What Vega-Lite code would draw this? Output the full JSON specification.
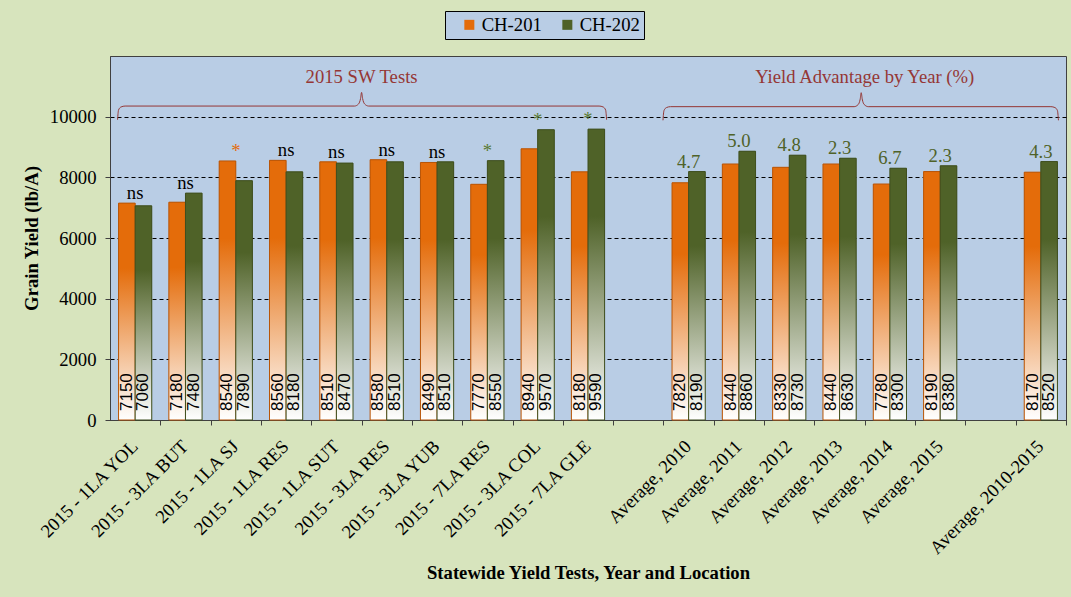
{
  "$schema": "https://vega.github.io/schema/vega-lite/v6.json",
  "width": 956,
  "height": 364,
  "autosize": "none",
  "padding": {"left": 110, "top": 56, "right": 5, "bottom": 177},
  "background": "#D7E4BD",
  "config": {
    "font": "Liberation Serif",
    "view": {"fill": "#B9CDE5", "stroke": "#404040", "strokeWidth": 1}
  },
  "datasets": {
    "yields": [
      {"cat": "2015 - 1LA YOL", "series": "CH-201", "value": 7150},
      {"cat": "2015 - 1LA YOL", "series": "CH-202", "value": 7060},
      {"cat": "2015 - 3LA BUT", "series": "CH-201", "value": 7180},
      {"cat": "2015 - 3LA BUT", "series": "CH-202", "value": 7480},
      {"cat": "2015 - 1LA SJ", "series": "CH-201", "value": 8540},
      {"cat": "2015 - 1LA SJ", "series": "CH-202", "value": 7890},
      {"cat": "2015 - 1LA RES", "series": "CH-201", "value": 8560},
      {"cat": "2015 - 1LA RES", "series": "CH-202", "value": 8180},
      {"cat": "2015 - 1LA SUT", "series": "CH-201", "value": 8510},
      {"cat": "2015 - 1LA SUT", "series": "CH-202", "value": 8470},
      {"cat": "2015 - 3LA RES", "series": "CH-201", "value": 8580},
      {"cat": "2015 - 3LA RES", "series": "CH-202", "value": 8510},
      {"cat": "2015 - 3LA YUB", "series": "CH-201", "value": 8490},
      {"cat": "2015 - 3LA YUB", "series": "CH-202", "value": 8510},
      {"cat": "2015 - 7LA RES", "series": "CH-201", "value": 7770},
      {"cat": "2015 - 7LA RES", "series": "CH-202", "value": 8550},
      {"cat": "2015 - 3LA COL", "series": "CH-201", "value": 8940},
      {"cat": "2015 - 3LA COL", "series": "CH-202", "value": 9570},
      {"cat": "2015 - 7LA GLE", "series": "CH-201", "value": 8180},
      {"cat": "2015 - 7LA GLE", "series": "CH-202", "value": 9590},
      {"cat": "Average, 2010", "series": "CH-201", "value": 7820},
      {"cat": "Average, 2010", "series": "CH-202", "value": 8190},
      {"cat": "Average, 2011", "series": "CH-201", "value": 8440},
      {"cat": "Average, 2011", "series": "CH-202", "value": 8860},
      {"cat": "Average, 2012", "series": "CH-201", "value": 8330},
      {"cat": "Average, 2012", "series": "CH-202", "value": 8730},
      {"cat": "Average, 2013", "series": "CH-201", "value": 8440},
      {"cat": "Average, 2013", "series": "CH-202", "value": 8630},
      {"cat": "Average, 2014", "series": "CH-201", "value": 7780},
      {"cat": "Average, 2014", "series": "CH-202", "value": 8300},
      {"cat": "Average, 2015", "series": "CH-201", "value": 8190},
      {"cat": "Average, 2015", "series": "CH-202", "value": 8380},
      {"cat": "Average, 2010-2015", "series": "CH-201", "value": 8170},
      {"cat": "Average, 2010-2015", "series": "CH-202", "value": 8520}
    ],
    "ann": [
      {"cat": "2015 - 1LA YOL", "label": "ns", "top": 7150, "ac": "#000000"},
      {"cat": "2015 - 3LA BUT", "label": "ns", "top": 7480, "ac": "#000000"},
      {"cat": "2015 - 1LA SJ", "label": "*", "top": 8540, "ac": "#E46C0A"},
      {"cat": "2015 - 1LA RES", "label": "ns", "top": 8560, "ac": "#000000"},
      {"cat": "2015 - 1LA SUT", "label": "ns", "top": 8510, "ac": "#000000"},
      {"cat": "2015 - 3LA RES", "label": "ns", "top": 8580, "ac": "#000000"},
      {"cat": "2015 - 3LA YUB", "label": "ns", "top": 8510, "ac": "#000000"},
      {"cat": "2015 - 7LA RES", "label": "*", "top": 8550, "ac": "#5A7A32"},
      {"cat": "2015 - 3LA COL", "label": "*", "top": 9570, "ac": "#5A7A32"},
      {"cat": "2015 - 7LA GLE", "label": "*", "top": 9590, "ac": "#5A7A32"},
      {"cat": "Average, 2010", "label": "4.7", "top": 8190, "ac": "#4F6228"},
      {"cat": "Average, 2011", "label": "5.0", "top": 8860, "ac": "#4F6228"},
      {"cat": "Average, 2012", "label": "4.8", "top": 8730, "ac": "#4F6228"},
      {"cat": "Average, 2013", "label": "2.3", "top": 8630, "ac": "#4F6228"},
      {"cat": "Average, 2014", "label": "6.7", "top": 8300, "ac": "#4F6228"},
      {"cat": "Average, 2015", "label": "2.3", "top": 8380, "ac": "#4F6228"},
      {"cat": "Average, 2010-2015", "label": "4.3", "top": 8520, "ac": "#4F6228"}
    ],
    "braces": [
      {"grp": "a", "pos": 0.15, "val": 9900},
      {"grp": "a", "pos": 0.17, "val": 10220},
      {"grp": "a", "pos": 0.22, "val": 10320},
      {"grp": "a", "pos": 0.30, "val": 10350},
      {"grp": "a", "pos": 4.86, "val": 10350},
      {"grp": "a", "pos": 4.94, "val": 10420},
      {"grp": "a", "pos": 4.98, "val": 10600},
      {"grp": "a", "pos": 5.00, "val": 10800},
      {"grp": "a", "pos": 5.02, "val": 10600},
      {"grp": "a", "pos": 5.06, "val": 10420},
      {"grp": "a", "pos": 5.14, "val": 10350},
      {"grp": "a", "pos": 9.72, "val": 10350},
      {"grp": "a", "pos": 9.80, "val": 10320},
      {"grp": "a", "pos": 9.85, "val": 10220},
      {"grp": "a", "pos": 9.87, "val": 9900},
      {"grp": "b", "pos": 10.99, "val": 9880},
      {"grp": "b", "pos": 11.01, "val": 10200},
      {"grp": "b", "pos": 11.06, "val": 10300},
      {"grp": "b", "pos": 11.14, "val": 10330},
      {"grp": "b", "pos": 14.79, "val": 10330},
      {"grp": "b", "pos": 14.87, "val": 10400},
      {"grp": "b", "pos": 14.91, "val": 10580},
      {"grp": "b", "pos": 14.93, "val": 10790},
      {"grp": "b", "pos": 14.95, "val": 10580},
      {"grp": "b", "pos": 14.99, "val": 10400},
      {"grp": "b", "pos": 15.07, "val": 10330},
      {"grp": "b", "pos": 18.70, "val": 10330},
      {"grp": "b", "pos": 18.78, "val": 10300},
      {"grp": "b", "pos": 18.83, "val": 10200},
      {"grp": "b", "pos": 18.85, "val": 9880}
    ],
    "groups": [
      {"pos": 5.0, "val": 11120, "label": "2015 SW Tests"},
      {"pos": 15.0, "val": 11120, "label": "Yield Advantage by Year (%)"}
    ]
  },
  "layer": [
    {
      "encoding": {
        "x": {
          "field": "cat", "type": "nominal",
          "scale": {
            "domain": ["2015 - 1LA YOL", "2015 - 3LA BUT", "2015 - 1LA SJ", "2015 - 1LA RES", "2015 - 1LA SUT", "2015 - 3LA RES", "2015 - 3LA YUB", "2015 - 7LA RES", "2015 - 3LA COL", "2015 - 7LA GLE", " ", "Average, 2010", "Average, 2011", "Average, 2012", "Average, 2013", "Average, 2014", "Average, 2015", "  ", "Average, 2010-2015"],
            "paddingInner": 0.34, "paddingOuter": 0.17
          },
          "axis": {
            "title": "Statewide Yield Tests, Year and Location",
            "titleFont": "Liberation Serif", "titleFontSize": 18.67, "titleFontWeight": "bold", "titleColor": "#000000", "titlePadding": 6,
            "labelAngle": -45, "labelAlign": "right", "labelBaseline": "middle",
            "labelFont": "Liberation Serif", "labelFontSize": 18.67, "labelColor": "#000000",
            "labelPadding": 18, "labelLimit": 400,
            "bandPosition": 1, "tickOffset": 8.55, "labelOffset": -9.5,
            "tickSize": 5, "tickColor": "#404040", "domainColor": "#404040", "grid": false
          }
        }
      },
      "layer": [
        {
          "data": {"name": "yields"},
          "mark": {"type": "bar", "strokeWidth": 1},
          "encoding": {
            "xOffset": {"field": "series", "type": "nominal", "scale": {"domain": ["CH-201", "CH-202"]}},
            "y": {
              "field": "value", "type": "quantitative",
              "scale": {"domain": [0, 12000], "nice": false},
              "title": "Grain Yield (lb/A)",
              "axis": {
                "values": [0, 2000, 4000, 6000, 8000, 10000], "format": "d", "zindex": 0,
                "titleFont": "Liberation Serif", "titleFontSize": 18.67, "titleFontWeight": "bold", "titleColor": "#000000", "titlePadding": 8,
                "labelFont": "Liberation Serif", "labelFontSize": 18.67, "labelColor": "#000000", "labelPadding": 9,
                "tickSize": 5, "tickColor": "#404040", "domainColor": "#404040",
                "grid": true, "gridColor": "#000000", "gridDash": [4, 3], "gridWidth": 1, "gridOpacity": 1
              }
            },
            "color": {
              "field": "series", "type": "nominal",
              "scale": {"domain": ["CH-201", "CH-202"], "range": ["#E46C0A", "#4F6228"]},
              "legend": {
                "orient": "none", "legendX": 335, "legendY": -45, "direction": "horizontal",
                "title": null, "fillColor": "#B9CDE5", "strokeColor": "#000000", "padding": 4,
                "labelFont": "Liberation Serif", "labelFontSize": 18.67, "labelColor": "#000000",
                "symbolType": "square", "symbolSize": 100, "symbolOffset": 11, "labelOffset": 3, "columnPadding": 5
              }
            }
          }
        },
        {
          "data": {"name": "yields"},
          "transform": [{"filter": "datum.series === 'CH-201'"}],
          "mark": {"type": "bar", "strokeWidth": 1, "stroke": "#B85508",
            "fill": {"gradient": "linear", "x1": 0, "y1": 0, "x2": 0, "y2": 1, "stops": [{"offset": 0, "color": "#E46C0A"}, {"offset": 0.3, "color": "#E46C0A"}, {"offset": 1, "color": "#FFFFFF"}]}},
          "encoding": {
            "xOffset": {"field": "series", "type": "nominal", "scale": {"domain": ["CH-201", "CH-202"]}},
            "y": {"field": "value", "type": "quantitative", "title": "Grain Yield (lb/A)"}
          }
        },
        {
          "data": {"name": "yields"},
          "transform": [{"filter": "datum.series === 'CH-202'"}],
          "mark": {"type": "bar", "strokeWidth": 1, "stroke": "#3F4F1F",
            "fill": {"gradient": "linear", "x1": 0, "y1": 0, "x2": 0, "y2": 1, "stops": [{"offset": 0, "color": "#4F6228"}, {"offset": 0.3, "color": "#4F6228"}, {"offset": 1, "color": "#FFFFFF"}]}},
          "encoding": {
            "xOffset": {"field": "series", "type": "nominal", "scale": {"domain": ["CH-201", "CH-202"]}},
            "y": {"field": "value", "type": "quantitative", "title": "Grain Yield (lb/A)"}
          }
        },
        {
          "data": {"name": "yields"},
          "mark": {"type": "text", "angle": 270, "align": "left", "baseline": "middle", "dx": 9, "font": "Liberation Sans", "fontSize": 17, "color": "#000000"},
          "encoding": {
            "xOffset": {"field": "series", "type": "nominal", "scale": {"domain": ["CH-201", "CH-202"]}},
            "y": {"datum": 0, "type": "quantitative", "title": "Grain Yield (lb/A)"},
            "text": {"field": "value", "type": "quantitative", "format": "d"}
          }
        },
        {
          "data": {"name": "ann"},
          "mark": {"type": "text", "baseline": "alphabetic", "dy": -4, "font": "Liberation Serif", "fontSize": 18.67},
          "encoding": {
            "y": {"field": "top", "type": "quantitative", "title": "Grain Yield (lb/A)"},
            "text": {"field": "label", "type": "nominal"},
            "fill": {"field": "ac", "type": "nominal", "scale": null}
          }
        }
      ]
    },
    {
      "data": {"name": "braces"},
      "mark": {"type": "line", "color": "#953735", "strokeWidth": 1, "interpolate": "monotone"},
      "encoding": {
        "x": {"field": "pos", "type": "quantitative", "scale": {"domain": [0, 19], "nice": false, "zero": false}, "axis": null},
        "y": {"field": "val", "type": "quantitative", "title": "Grain Yield (lb/A)"},
        "detail": {"field": "grp", "type": "nominal"}
      }
    },
    {
      "data": {"name": "groups"},
      "mark": {"type": "text", "baseline": "alphabetic", "font": "Liberation Serif", "fontSize": 18.67, "color": "#953735"},
      "encoding": {
        "x": {"field": "pos", "type": "quantitative", "scale": {"domain": [0, 19], "nice": false, "zero": false}, "axis": null},
        "y": {"field": "val", "type": "quantitative", "title": "Grain Yield (lb/A)"},
        "text": {"field": "label", "type": "nominal"}
      }
    }
  ],
  "resolve": {"scale": {"x": "independent"}}
}
